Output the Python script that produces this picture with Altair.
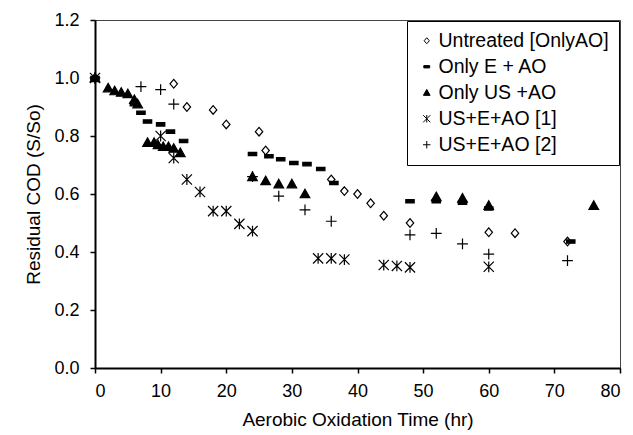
import altair as alt
import pandas as pd

series_names = ["Untreated [OnlyAO]", "Only E + AO", "Only US +AO", "US+E+AO [1]", "US+E+AO [2]"]

untreated_t = [0, 12, 14, 18, 20, 25, 26, 36, 38, 40, 42, 44, 48, 60, 64, 72]
untreated_v = [1.0, 0.98, 0.90, 0.89, 0.84, 0.815, 0.75, 0.65, 0.61, 0.60, 0.568, 0.525, 0.50, 0.468, 0.465, 0.436]

onlyE_t = [0, 6, 7, 8, 10, 11.5, 13.5, 24, 26.5, 28.3, 30.3, 32.3, 34.4, 36.4, 48, 52, 56, 60, 72.5]
onlyE_v = [1.0, 0.91, 0.88, 0.85, 0.84, 0.815, 0.783, 0.738, 0.73, 0.72, 0.707, 0.703, 0.686, 0.638, 0.575, 0.575, 0.57, 0.55, 0.436]

onlyUS_t = [0, 2, 3, 4, 5, 6, 6.5, 8, 9, 9.6, 10.4, 11.2, 12, 13, 24, 26, 28, 30, 32, 52, 56, 60, 76]
onlyUS_v = [1.0, 0.965, 0.955, 0.95, 0.945, 0.925, 0.91, 0.777, 0.777, 0.769, 0.763, 0.763, 0.757, 0.742, 0.659, 0.645, 0.634, 0.634, 0.60, 0.59, 0.585, 0.56, 0.56]

comb1_t = [0, 10, 12, 14, 16, 18, 20, 22, 24, 34, 36, 38, 44, 46, 48, 60]
comb1_v = [1.0, 0.80, 0.724, 0.65, 0.607, 0.541, 0.541, 0.497, 0.472, 0.378, 0.378, 0.374, 0.355, 0.352, 0.347, 0.349]

comb2_t = [0, 7, 10, 12, 24, 28, 32, 36, 48, 52, 56, 60, 72]
comb2_v = [1.0, 0.97, 0.96, 0.91, 0.66, 0.593, 0.545, 0.506, 0.459, 0.464, 0.428, 0.393, 0.37]

rows = []
for name, ts, vs in zip(series_names,
                        [untreated_t, onlyE_t, onlyUS_t, comb1_t, comb2_t],
                        [untreated_v, onlyE_v, onlyUS_v, comb1_v, comb2_v]):
    for t, v in zip(ts, vs):
        rows.append({"series": name, "t": t, "v": v})
df = pd.DataFrame(rows)

shape_paths = [
    "M0,-0.72L0.62,0L0,0.72L-0.62,0Z",
    "M-0.7,-0.28L0.7,-0.28L0.7,0.28L-0.7,0.28Z",
    "M0,-0.8L0.8,0.62L-0.8,0.62Z",
    "M-0.85,-0.85L0.85,0.85M-0.85,0.85L0.85,-0.85M0,-0.9L0,0.9",
    "M-0.9,0L0.9,0M0,-0.9L0,0.9",
]
fills = ["white", "black", "black", "black", "black"]
strokes = ["black"] * 5


def leg():
    return alt.Legend(orient="top-right", offset=1,
                      strokeColor="black", fillColor="white",
                      padding=10, labelFontSize=19.5, symbolSize=70,
                      rowPadding=5, labelFont="Liberation Sans", labelColor="black",
                      labelLimit=400, symbolStrokeWidth=1, labelOffset=2)


chart = alt.Chart(df).mark_point(
    size=144, strokeWidth=1.2, opacity=1
).encode(
    x=alt.X("t:Q", title="Aerobic Oxidation Time (hr)",
            scale=alt.Scale(domain=[0, 80], nice=False, zero=True),
            axis=alt.Axis(values=list(range(0, 81, 10)), format="d")),
    y=alt.Y("v:Q", title="Residual COD (S/So)",
            scale=alt.Scale(domain=[0, 1.2], nice=False),
            axis=alt.Axis(values=[0, 0.2, 0.4, 0.6, 0.8, 1.0, 1.2], format=".1f")),
    shape=alt.Shape("series:N", title=None,
                    scale=alt.Scale(domain=series_names, range=shape_paths),
                    legend=leg()),
    fill=alt.Fill("series:N", title=None,
                  scale=alt.Scale(domain=series_names, range=fills),
                  legend=leg()),
    stroke=alt.Stroke("series:N", title=None,
                      scale=alt.Scale(domain=series_names, range=strokes),
                      legend=leg()),
).properties(
    width=525, height=348,
    autosize=alt.AutoSizeParams(type="none"),
    padding={"left": 95, "top": 20, "right": 13, "bottom": 67},
).configure_view(
    stroke="#444", strokeWidth=1
).configure_axis(
    grid=False, domainColor="black", domainWidth=2, tickColor="black",
    tickSize=5, tickWidth=1.5, labelFont="Liberation Sans", titleFont="Liberation Sans",
    labelFontSize=18, titleFontSize=19, labelColor="black", titleColor="black",
    titleFontWeight="normal"
).configure_axisX(
    labelPadding=9, titlePadding=10
).configure_axisY(
    labelPadding=11, titlePadding=10
)

chart.save("out.html", embed_options={"renderer": "svg", "actions": False})
